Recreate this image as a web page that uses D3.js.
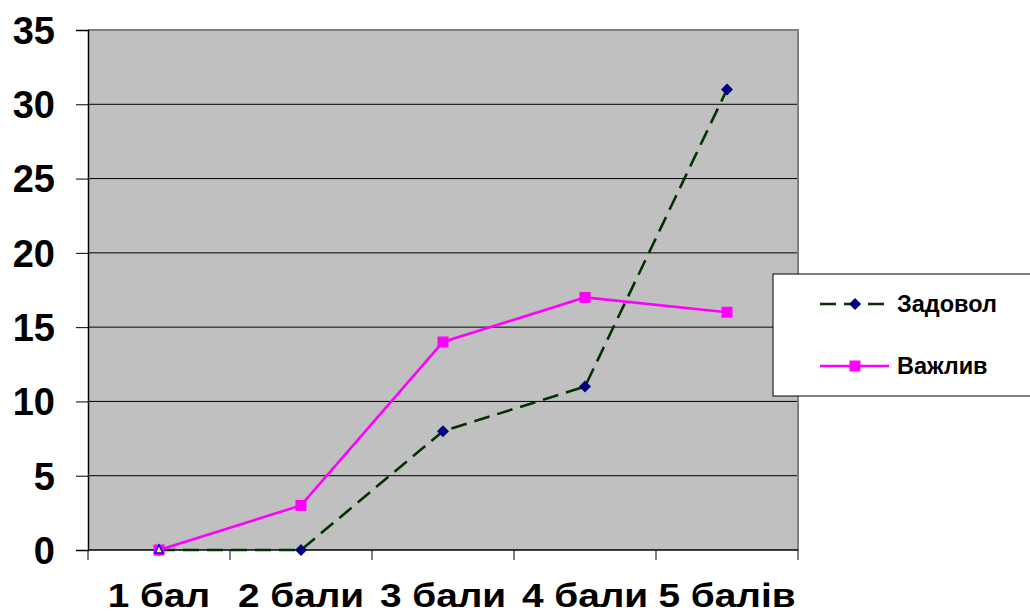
<!DOCTYPE html>
<html>
<head>
<meta charset="utf-8">
<script src="https://cdn.jsdelivr.net/npm/d3@7"></script>
<style>
  html, body { margin: 0; padding: 0; background: #ffffff; }
  svg { display: block; font-family: "Liberation Sans", Arial, sans-serif; }
</style>
</head>
<body>
<svg id="chart" width="1030" height="613"></svg>
<script>
// Categories and series
const categories = ["1 бал", "2 бали", "3 бали", "4 бали", "5 балів"];
const zadovol = [0, 0, 8, 11, 31];
const vazhlyv = [0, 3, 14, 17, 16];
const yTicks = [0, 5, 10, 15, 20, 25, 30, 35];
const seriesNames = ["Задовол", "Важлив"];

const svg = d3.select("#chart");
const plot = { left: 88, right: 798, top: 30, bottom: 550 };

const x = d3.scaleBand().domain(categories).range([plot.left, plot.right]);
const y = d3.scaleLinear().domain([0, 35]).range([plot.bottom, plot.top]);
const cx = d => x(d) + x.bandwidth() / 2;

// Plot background
svg.append("rect")
  .attr("x", plot.left).attr("y", plot.top)
  .attr("width", plot.right - plot.left).attr("height", plot.bottom - plot.top)
  .attr("fill", "#c0c0c0");

// Horizontal grid lines
svg.append("g").selectAll("line").data(yTicks.filter(t => t > 0 && t < 35)).join("line")
  .attr("x1", plot.left).attr("x2", plot.right)
  .attr("y1", d => y(d)).attr("y2", d => y(d))
  .attr("stroke", "#000").attr("stroke-width", 1);

// Top and right frame
svg.append("path")
  .attr("d", `M${plot.left},${plot.top}H${plot.right}V${plot.bottom}`)
  .attr("fill", "none").attr("stroke", "#808080").attr("stroke-width", 2);

// Y axis
const yAxis = svg.append("g")
  .attr("transform", `translate(${plot.left},0)`)
  .call(d3.axisLeft(y).tickValues(yTicks).tickSize(12).tickPadding(21).tickFormat(d3.format("d")));
yAxis.select(".domain").attr("stroke", "#000").attr("stroke-width", 1.5);
yAxis.selectAll(".tick line").attr("stroke", "#000").attr("stroke-width", 1);
yAxis.selectAll("text")
  .attr("font-family", "Liberation Sans, Arial, sans-serif")
  .attr("font-size", 38).attr("font-weight", "bold").attr("fill", "#000")
  .attr("dy", "0.35em");

// X axis: ticks at band boundaries
const xAxisG = svg.append("g");
xAxisG.append("line")
  .attr("x1", plot.left).attr("x2", plot.right)
  .attr("y1", plot.bottom).attr("y2", plot.bottom)
  .attr("stroke", "#000").attr("stroke-width", 1.5);
const bounds = categories.map(c => x(c)).concat([plot.right]);
xAxisG.selectAll("line.tick").data(bounds).join("line")
  .attr("class", "tick")
  .attr("x1", d => d).attr("x2", d => d)
  .attr("y1", plot.bottom).attr("y2", plot.bottom + 10)
  .attr("stroke", "#000").attr("stroke-width", 1);
const sx = 1.14;
xAxisG.selectAll("text").data(categories).join("text")
  .attr("transform", d => `translate(${cx(d)},607) scale(${sx},1)`)
  .attr("text-anchor", "middle")
  .attr("font-size", 34).attr("font-weight", "bold").attr("fill", "#000")
  .text(d => d);

const line = d3.line().x((d, i) => cx(categories[i])).y(d => y(d));

// Задовол: dashed dark green line with navy diamonds
svg.append("path").datum(zadovol)
  .attr("d", line).attr("fill", "none")
  .attr("stroke", "#003300").attr("stroke-width", 2.6)
  .attr("stroke-dasharray", "16,8");

// Важлив: magenta line with squares
svg.append("path").datum(vazhlyv)
  .attr("d", line).attr("fill", "none")
  .attr("stroke", "#ff00ff").attr("stroke-width", 2.6);

// diamond marker: square rotated 45 degrees
const diamondPath = "M0,-6L6,0L0,6L-6,0Z";
svg.append("g").selectAll("path").data(zadovol).join("path")
  .attr("d", diamondPath)
  .attr("transform", (d, i) => `translate(${cx(categories[i])},${y(d)})`)
  .attr("fill", "#000080");

svg.append("g").selectAll("rect").data(vazhlyv).join("rect")
  .attr("x", (d, i) => cx(categories[i]) - 5.5).attr("y", d => y(d) - 5.5)
  .attr("width", 11).attr("height", 11)
  .attr("fill", "#ff00ff");

// Overlapping first point: small triangle marker on top
svg.append("path")
  .attr("d", "M0,-5L4,3L-4,3Z")
  .attr("transform", `translate(${cx(categories[0])},${y(vazhlyv[0])})`)
  .attr("fill", "#ffff00").attr("stroke", "#0000ff").attr("stroke-width", 1.6);

// Legend
const legend = svg.append("g");
legend.append("rect")
  .attr("x", 773).attr("y", 274).attr("width", 270).attr("height", 122)
  .attr("fill", "#fff").attr("stroke", "#000").attr("stroke-width", 1);

const legY = [304, 366];
// Задовол entry
legend.append("line")
  .attr("x1", 820).attr("x2", 889).attr("y1", legY[0]).attr("y2", legY[0])
  .attr("stroke", "#003300").attr("stroke-width", 2.6).attr("stroke-dasharray", "16,8");
legend.append("path")
  .attr("d", diamondPath)
  .attr("transform", `translate(855,${legY[0]})`)
  .attr("fill", "#000080");
// Важлив entry
legend.append("line")
  .attr("x1", 820).attr("x2", 889).attr("y1", legY[1]).attr("y2", legY[1])
  .attr("stroke", "#ff00ff").attr("stroke-width", 2.6);
legend.append("rect")
  .attr("x", 849.5).attr("y", legY[1] - 5.5).attr("width", 11).attr("height", 11)
  .attr("fill", "#ff00ff");

legend.selectAll("text").data(seriesNames).join("text")
  .attr("x", 897).attr("y", (d, i) => legY[i])
  .attr("dy", "0.36em")
  .attr("font-size", 23.5).attr("font-weight", "bold").attr("fill", "#000")
  .text(d => d);
</script>
</body>
</html>
